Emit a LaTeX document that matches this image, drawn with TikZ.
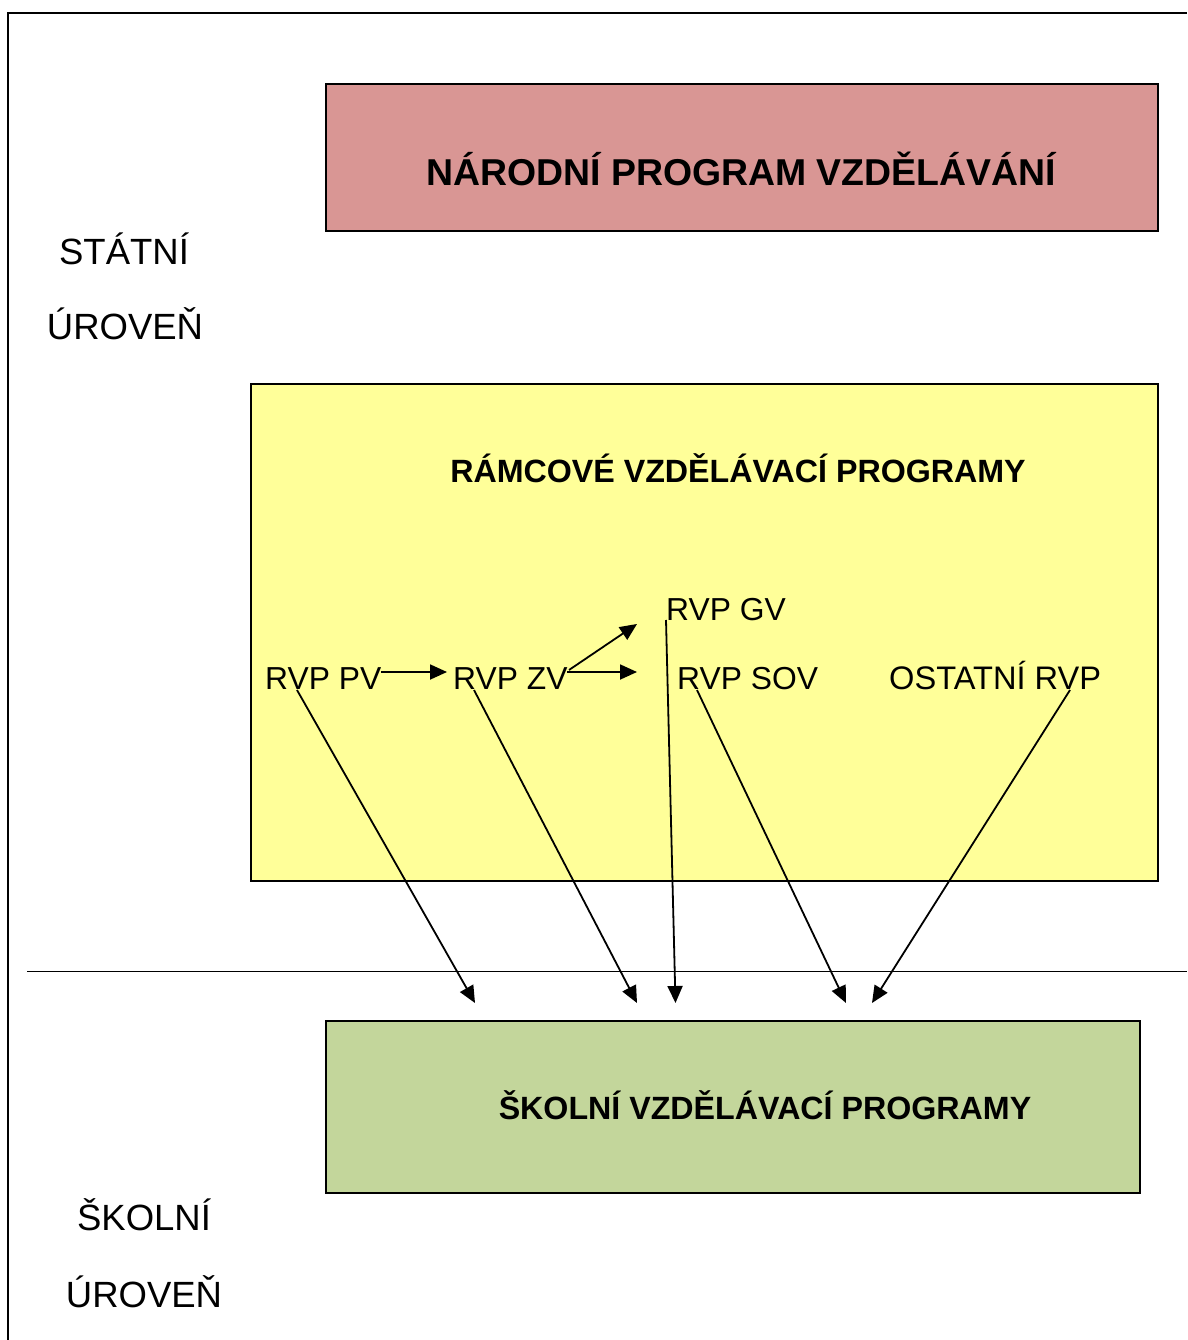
\documentclass[tikz,border=0pt]{standalone}
\usepackage{fontspec}
\setmainfont{Liberation Sans}
\usetikzlibrary{arrows.meta}
\definecolor{redfill}{HTML}{D99694}
\definecolor{yellowfill}{HTML}{FFFF99}
\definecolor{greenfill}{HTML}{C3D69B}
\begin{document}
\begin{tikzpicture}[x=1pt,y=-1pt,
  box/.style={draw=black, line width=2.3pt, inner sep=0pt, anchor=north west},
  title/.style={font=\fontsize{32.2}{36}\bfseries\selectfont, anchor=base, inner sep=0pt},
  lvl/.style={font=\fontsize{36.5}{40}\selectfont, anchor=base, inner sep=0pt},
  rvp/.style={font=\fontsize{31.8}{36}\selectfont, anchor=base west, inner sep=0pt},
  frame/.style={line width=2pt},
  arr/.style={line width=1.8pt, -{Triangle[length=17pt,width=15pt]}}]
\useasboundingbox (0,0) rectangle (1187,1340);
% frame and divider
\draw[frame] (8,1340) -- (8,13) -- (1187,13);
\draw[line width=1.6pt] (27,971.5) -- (1187,971.5);
% boxes
\node[box, fill=redfill, minimum width=832pt, minimum height=147pt] (npvbox) at (325,83) {};
\node[box, fill=yellowfill, minimum width=907pt, minimum height=497pt] (rvpbox) at (250,383) {};
\node[box, fill=greenfill, minimum width=814pt, minimum height=172pt] (svpbox) at (325,1020) {};
% titles
\node[title, font=\fontsize{37.4}{42}\bfseries\selectfont] (npv) at (741,186) {NÁRODNÍ PROGRAM VZDĚLÁVÁNÍ};
\node[title] (rvpt) at (738,482) {RÁMCOVÉ VZDĚLÁVACÍ PROGRAMY};
\node[title] (svp) at (765,1119) {ŠKOLNÍ VZDĚLÁVACÍ PROGRAMY};
% level labels
\node[lvl] (st1) at (124,264) {STÁTNÍ};
\node[lvl] (st2) at (125,339) {ÚROVEŇ};
\node[lvl] (sk1) at (144,1230) {ŠKOLNÍ};
\node[lvl] (sk2) at (144,1307) {ÚROVEŇ};
% RVP labels
\node[rvp] (pv) at (265,689) {RVP PV};
\node[rvp] (zv) at (453,689) {RVP ZV};
\node[rvp] (gv) at (666,620) {RVP GV};
\node[rvp] (sov) at (677,689) {RVP SOV};
\node[rvp, font=\fontsize{32.6}{36}\selectfont] (ost) at (889,689) {OSTATNÍ RVP};
% connector points
\coordinate (pvR) at (381,672);
\coordinate (zvL) at (447,672);
\coordinate (zvR) at (567,672);
\coordinate (zvRu) at (569,670);
\coordinate (hEnd) at (637,672);
\coordinate (uEnd) at (637,624);
\coordinate (pvS) at (297,690);
\coordinate (zvS) at (474,690);
\coordinate (gvS) at (666,620);
\coordinate (sovS) at (697,690);
\coordinate (ostS) at (1070,690);
\coordinate (t1) at (475,1003);
\coordinate (t2) at (637,1003);
\coordinate (t3) at (675.5,1003);
\coordinate (t4) at (846,1003);
\coordinate (t5) at (872,1003);
% arrows
\draw[arr] (pvR) -- (zvL);
\draw[arr] (zvR) -- (hEnd);
\draw[arr] (zvRu) -- (uEnd);
\draw[arr] (pvS) -- (t1);
\draw[arr] (zvS) -- (t2);
\draw[arr] (gvS) -- (t3);
\draw[arr] (sovS) -- (t4);
\draw[arr] (ostS) -- (t5);
\end{tikzpicture}
\end{document}
